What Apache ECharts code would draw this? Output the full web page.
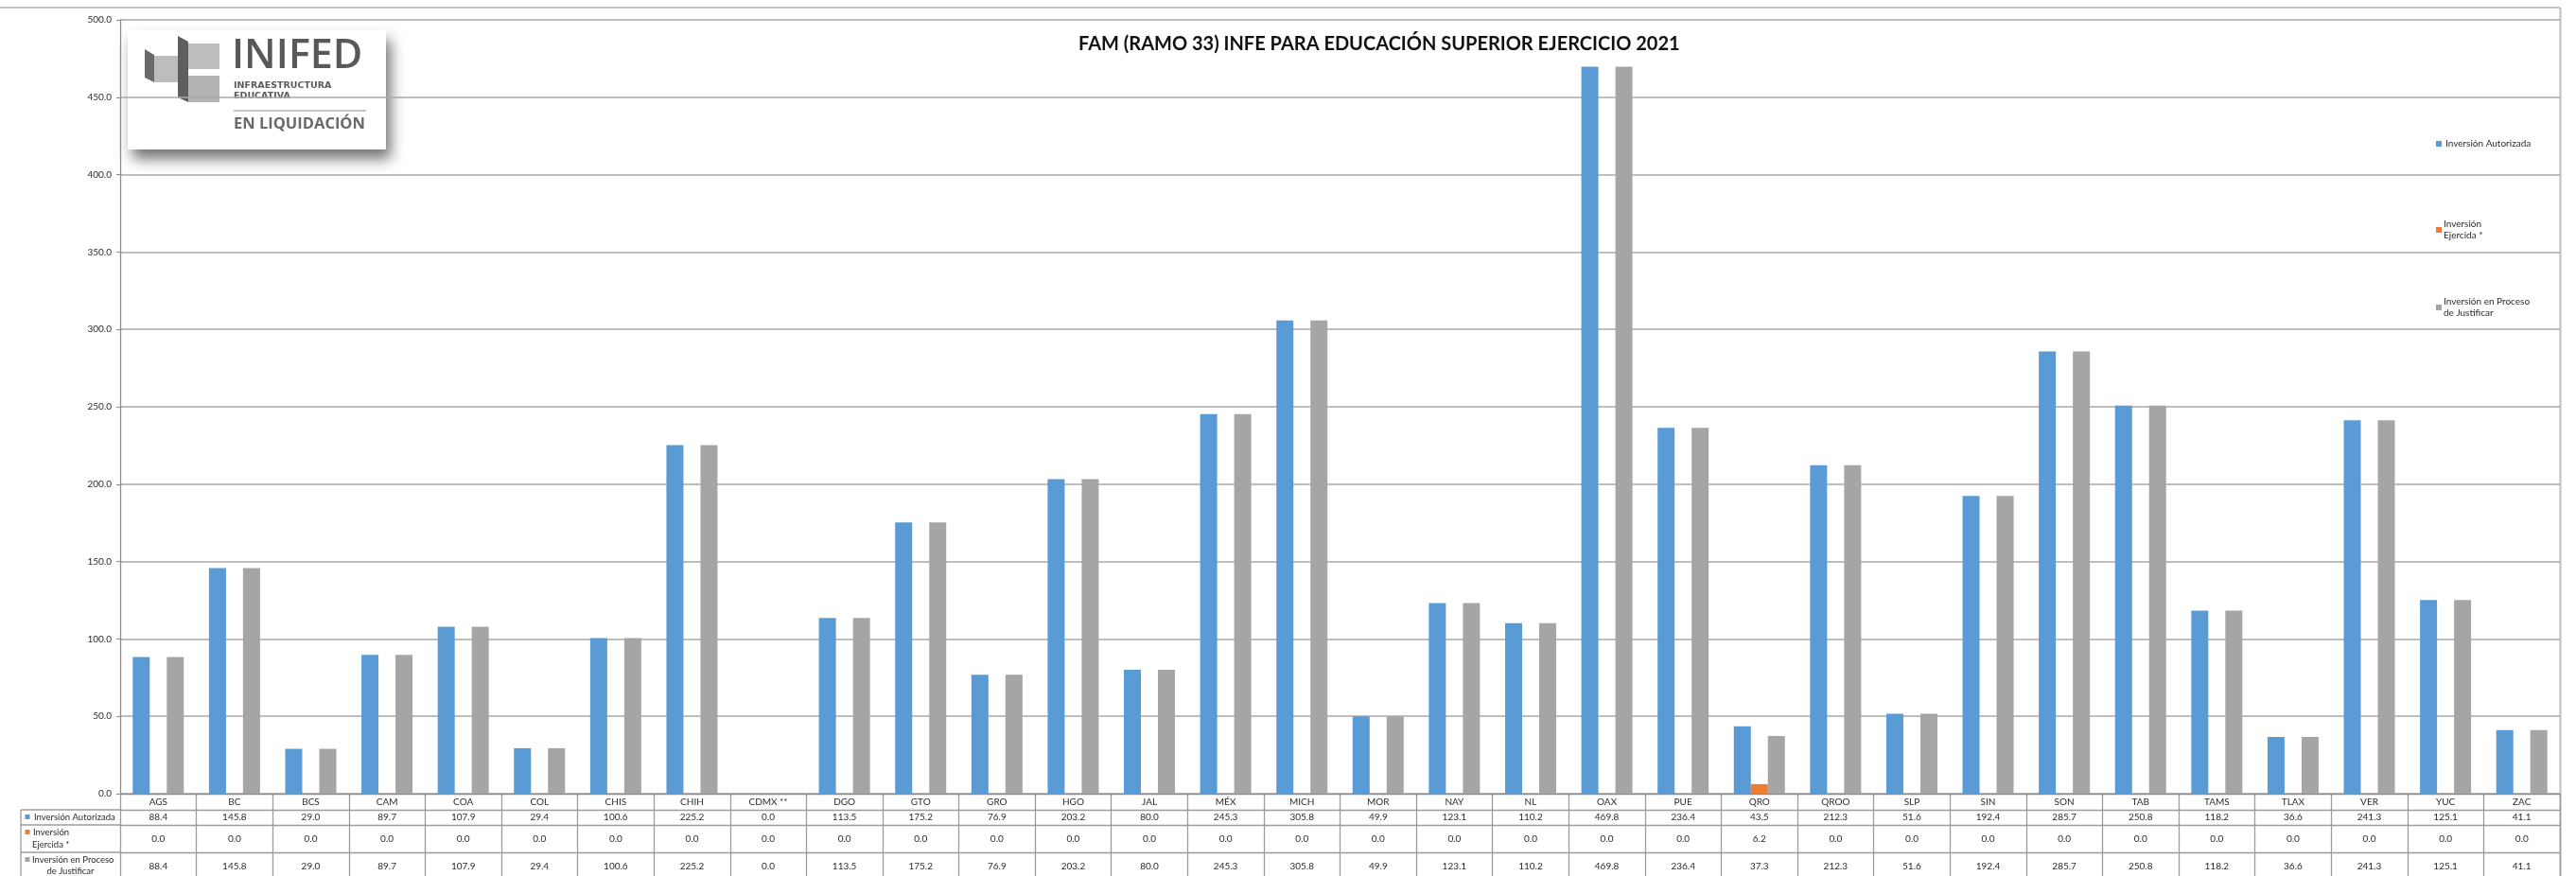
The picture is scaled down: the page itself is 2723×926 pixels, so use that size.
<!DOCTYPE html>
<html><head><meta charset="utf-8">
<script src="https://cdn.jsdelivr.net/npm/echarts@6/dist/echarts.min.js"></script>
<style>html,body{margin:0;padding:0;background:#fff}#c{width:2723px;height:926px}</style>
</head><body><div id="c"></div>
<script>
const categories = ['AGS','BC','BCS','CAM','COA','COL','CHIS','CHIH','CDMX **','DGO','GTO','GRO','HGO','JAL','MÉX','MICH','MOR','NAY','NL','OAX','PUE','QRO','QROO','SLP','SIN','SON','TAB','TAMS','TLAX','VER','YUC','ZAC'];
const autorizada = [88.4,145.8,29.0,89.7,107.9,29.4,100.6,225.2,0.0,113.5,175.2,76.9,203.2,80.0,245.3,305.8,49.9,123.1,110.2,469.8,236.4,43.5,212.3,51.6,192.4,285.7,250.8,118.2,36.6,241.3,125.1,41.1];
const ejercida   = [0,0,0,0,0,0,0,0,0,0,0,0,0,0,0,0,0,0,0,0,0,6.2,0,0,0,0,0,0,0,0,0,0];
const proceso    = [88.4,145.8,29.0,89.7,107.9,29.4,100.6,225.2,0.0,113.5,175.2,76.9,203.2,80.0,245.3,305.8,49.9,123.1,110.2,469.8,236.4,37.3,212.3,51.6,192.4,285.7,250.8,118.2,36.6,241.3,125.1,41.1];
const seriesNames = ['Inversión Autorizada','Inversión Ejercida *','Inversión en Proceso de Justificar'];
const legendLabels = ['Inversión Autorizada','Inversión\nEjercida *','Inversión en Proceso\nde Justificar'];
const colors = ['#5B9BD5','#ED7D31','#A5A5A5'];
const yMin = 0, yMax = 500, yStep = 50;
const titleText = 'FAM (RAMO 33) INFE PARA EDUCACIÓN SUPERIOR EJERCICIO 2021';

const F = 'Lato';
const W = 2723, H = 926;
const G = {left:127, right:17, top:21, bottom:87};
const y0 = H - G.bottom;            // zero line / table top
const rowOff = [17, 33, 62];        // table row lines below y0
const tableColor = '#9c9c9c';
const txt = '#2b2b2b';

const chart = echarts.init(document.getElementById('c'), null, {renderer:'canvas'});

function baseX(extra){
  return Object.assign({
    type:'category', data:categories, gridIndex:0, position:'bottom', boundaryGap:true,
    splitLine:{show:false}, axisTick:{show:false},
    axisLine:{show:true, lineStyle:{color:tableColor, width:1.3}},
  }, extra);
}
const lab = (margin, arr) => ({interval:0, fontFamily:F, fontSize:10, color:txt, lineHeight:11, margin:margin,
  formatter: arr ? ((v,i)=>arr[i].toFixed(1)) : (v=>v)});

const series = [autorizada, ejercida, proceso].map((d,k)=>({
  name: seriesNames[k], type:'bar', data:d, barWidth:18, barGap:'0%',
  itemStyle:{color:colors[k]}, xAxisIndex:0, yAxisIndex:0, silent:true
}));

const legends = [146, 225, 307].map((t,k)=>({
  data:[seriesNames[k]], left:2575, top:t, orient:'vertical', padding:0,
  icon:'rect', itemWidth:6, itemHeight:6, itemGap:0, selectedMode:false,
  formatter: ()=>legendLabels[k],
  textStyle:{fontFamily:F, fontSize:10, color:txt, lineHeight:12, padding: k===0?[0,0,0,-1]:[12,0,0,-3]}
}));

// row header / table outline (left part) and frame
const hdrX0 = 22, hdrX1 = G.left;
const g = [];
rowOff.forEach(o=>{
  g.push({type:'line', shape:{x1:hdrX0, y1:y0+o, x2:hdrX1, y2:y0+o}, style:{stroke:tableColor, lineWidth:1.3}});
});
g.push({type:'line', shape:{x1:hdrX0, y1:y0+rowOff[0], x2:hdrX0, y2:H}, style:{stroke:tableColor, lineWidth:1.3}});
g.push({type:'line', shape:{x1:0, y1:8, x2:W-G.right, y2:8}, style:{stroke:'#b0b0b0', lineWidth:1.5}});
g.push({type:'line', shape:{x1:W-G.right+0.5, y1:8, x2:W-G.right+0.5, y2:H}, style:{stroke:'#c0c0c0', lineWidth:2}});
// row headers
const ts = (t,x,y,align)=>({type:'text', x:x, y:y, style:{text:t, fontFamily:F, fontSize:9.5, fill:txt, textVerticalAlign:'middle', textAlign:align||'left'}});
g.push({type:'rect', shape:{x:26.5, y:y0+22, width:5, height:5}, style:{fill:colors[0]}});
g.push(ts(seriesNames[0], 36, y0+25));
g.push({type:'rect', shape:{x:26.5, y:y0+38, width:5, height:5}, style:{fill:colors[1]}});
g.push(ts('Inversión', 35, y0+40.5));
g.push(ts('Ejercida *', 34, y0+53.5));
g.push({type:'rect', shape:{x:26.5, y:y0+67, width:5, height:5}, style:{fill:colors[2]}});
g.push(ts('Inversión en Proceso', 34, y0+69.5));
g.push(ts('de Justificar', 74.5, y0+82, 'center'));

// logo
const logo = {type:'group', x:135, y:32, children:[
  {type:'rect', shape:{x:0, y:0, width:273, height:126}, style:{fill:'#fff', shadowBlur:14, shadowOffsetX:5, shadowOffsetY:10, shadowColor:'rgba(0,0,0,0.55)'}},
  {type:'polygon', shape:{points:[[18,20],[28,26],[28,55],[18,50]]}, style:{fill:'#6a6a6c'}},
  {type:'rect', shape:{x:28, y:27, width:36, height:28}, style:{fill:'#bdbcbe'}},
  {type:'polygon', shape:{points:[[53,6],[64,12],[64,76],[53,71]]}, style:{fill:'#5e5e60'}},
  {type:'rect', shape:{x:64, y:14, width:33, height:27}, style:{fill:'#bdbcbe'}},
  {type:'rect', shape:{x:64, y:48, width:33, height:28}, style:{fill:'#b4b3b5'}},
  {type:'text', x:110, y:6, style:{text:'INIFED', fontFamily:'Open Sans', fontSize:43, fontWeight:600, fill:'#585858', textVerticalAlign:'top'}},
  {type:'text', x:112, y:54, style:{text:'INFRAESTRUCTURA', fontFamily:'DejaVu Sans', fontSize:9.5, fontWeight:700, fill:'#5a5a5a', textVerticalAlign:'top'}},
  {type:'text', x:112, y:64.5, style:{text:'EDUCATIVA', fontFamily:'DejaVu Sans', fontSize:9.5, fontWeight:700, fill:'#5a5a5a', textVerticalAlign:'top'}},
  {type:'line', shape:{x1:112, y1:85, x2:252, y2:85}, style:{stroke:'#8a8a8a', lineWidth:1}},
  {type:'text', x:112, y:91, style:{text:'EN LIQUIDACIÓN', fontFamily:'Open Sans', fontSize:16.5, fontWeight:700, fill:'#6a6a6a', textVerticalAlign:'top'}}
]};
g.push(logo);

const option = {
  backgroundColor:'#fff',
  animation:false,
  title:{text:titleText, left:1140, top:37, padding:0, textStyle:{fontFamily:F, fontSize:20, fontWeight:'bold', color:'#111'}},
  legend: legends,
  grid:{left:G.left, right:G.right, top:G.top, bottom:G.bottom, containLabel:false},
  xAxis:[
    baseX({axisLine:{show:true, lineStyle:{color:'#8c8c8c', width:1.3}},
           axisTick:{show:true, interval:0, length:100, lineStyle:{color:tableColor, width:1.3}},
           axisLabel:lab(3.5)}),
    baseX({offset:rowOff[0], axisLabel:lab(2.5, autorizada)}),
    baseX({offset:rowOff[1], axisLabel:lab(9, ejercida)}),
    baseX({offset:rowOff[2], axisLabel:lab(9, proceso)})
  ],
  yAxis:{type:'value', min:yMin, max:yMax, interval:yStep,
    axisLine:{show:true, lineStyle:{color:'#8c8c8c', width:1.3}},
    axisTick:{show:true, length:4, lineStyle:{color:'#8c8c8c'}},
    axisLabel:{formatter:v=>v.toFixed(1), margin:9, fontFamily:F, fontSize:10, color:txt},
    splitLine:{show:true, lineStyle:{color:'#a8a8a8', width:1.5}}},
  series: series,
  graphic: g
};
chart.setOption(option);
</script></body></html>
